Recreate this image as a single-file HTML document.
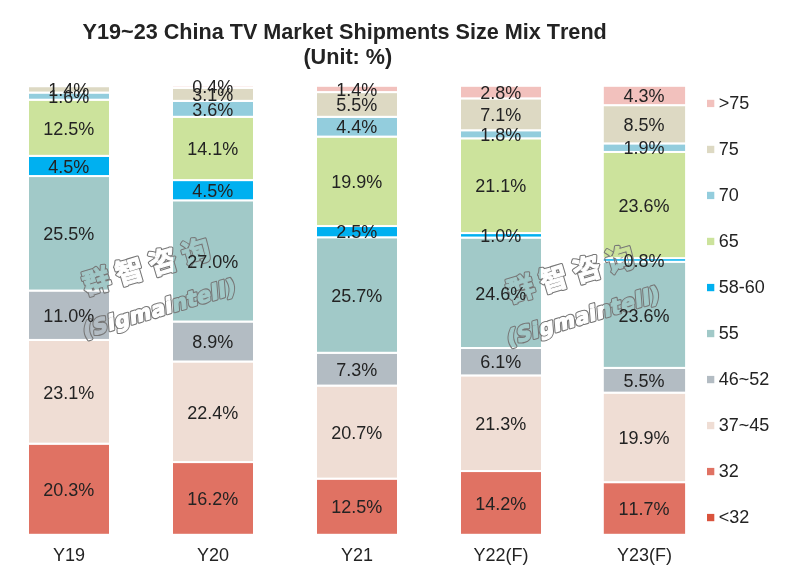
<!DOCTYPE html>
<html lang="en"><head><meta charset="utf-8"><title>Y19~23 China TV Market Shipments Size Mix Trend</title>
<style>
html,body{margin:0;padding:0;background:#fff;}
body{width:796px;height:580px;overflow:hidden;font-family:"Liberation Sans","Noto Sans CJK SC",sans-serif;}
svg{display:block}
text{font-kerning:none}
.t{font-family:"Liberation Sans","Noto Sans CJK SC",sans-serif;font-size:18px;fill:#232323}
.title{font-family:"Liberation Sans","Noto Sans CJK SC",sans-serif;font-size:21.62px;font-weight:bold;fill:#232323}
.seg{stroke:#fff;stroke-width:2}
.wmc{font-family:"Noto Sans CJK SC","Liberation Sans",sans-serif;font-size:28px;font-weight:700;letter-spacing:6.5px}
.wme{font-family:"DejaVu Sans","Liberation Sans",sans-serif;font-size:21px;font-weight:bold;font-style:normal;letter-spacing:0.4px}
</style></head><body>
<svg width="796" height="580" viewBox="0 0 796 580">
<rect width="796" height="580" fill="#fff"/>
<text class="title" x="344.7" y="38.6" text-anchor="middle">Y19~23 China TV Market Shipments Size Mix Trend</text>
<text class="title" x="347.8" y="63.6" text-anchor="middle">(Unit: %)</text>
<g>
<rect class="seg" x="28.0" y="443.65" width="82.0" height="91.15" fill="#E07263"/>
<rect class="seg" x="28.0" y="339.93" width="82.0" height="103.72" fill="#EFDDD4"/>
<rect class="seg" x="28.0" y="290.54" width="82.0" height="49.39" fill="#B3BCC3"/>
<rect class="seg" x="28.0" y="176.05" width="82.0" height="114.50" fill="#A1C9C8"/>
<rect class="seg" x="28.0" y="155.84" width="82.0" height="20.21" fill="#00B0F0"/>
<rect class="seg" x="28.0" y="99.72" width="82.0" height="56.12" fill="#CCE39C"/>
<rect class="seg" x="28.0" y="92.53" width="82.0" height="7.18" fill="#93CDDD"/>
<rect class="seg" x="28.0" y="86.25" width="82.0" height="6.29" fill="#DDD9C3"/>
</g>
<text class="t" x="69.0" y="560.6" text-anchor="middle">Y19</text>
<g>
<rect class="seg" x="172.0" y="462.06" width="82.0" height="72.74" fill="#E07263"/>
<rect class="seg" x="172.0" y="361.49" width="82.0" height="100.58" fill="#EFDDD4"/>
<rect class="seg" x="172.0" y="321.52" width="82.0" height="39.96" fill="#B3BCC3"/>
<rect class="seg" x="172.0" y="200.29" width="82.0" height="121.23" fill="#A1C9C8"/>
<rect class="seg" x="172.0" y="180.09" width="82.0" height="20.21" fill="#00B0F0"/>
<rect class="seg" x="172.0" y="116.78" width="82.0" height="63.31" fill="#CCE39C"/>
<rect class="seg" x="172.0" y="100.84" width="82.0" height="15.94" fill="#93CDDD"/>
<rect class="seg" x="172.0" y="87.82" width="82.0" height="13.02" fill="#DDD9C3"/>
<rect class="seg" x="172.0" y="85.58" width="82.0" height="2.25" fill="#F2C1BD"/>
</g>
<text class="t" x="213.0" y="560.6" text-anchor="middle">Y20</text>
<g>
<rect class="seg" x="316.0" y="478.62" width="82.0" height="56.18" fill="#E07263"/>
<rect class="seg" x="316.0" y="385.58" width="82.0" height="93.04" fill="#EFDDD4"/>
<rect class="seg" x="316.0" y="352.77" width="82.0" height="32.81" fill="#B3BCC3"/>
<rect class="seg" x="316.0" y="237.26" width="82.0" height="115.51" fill="#A1C9C8"/>
<rect class="seg" x="316.0" y="226.03" width="82.0" height="11.24" fill="#00B0F0"/>
<rect class="seg" x="316.0" y="136.59" width="82.0" height="89.44" fill="#CCE39C"/>
<rect class="seg" x="316.0" y="116.81" width="82.0" height="19.78" fill="#93CDDD"/>
<rect class="seg" x="316.0" y="92.09" width="82.0" height="24.72" fill="#DDD9C3"/>
<rect class="seg" x="316.0" y="85.80" width="82.0" height="6.29" fill="#F2C1BD"/>
</g>
<text class="t" x="357.0" y="560.6" text-anchor="middle">Y21</text>
<g>
<rect class="seg" x="460.0" y="471.04" width="82.0" height="63.76" fill="#E07263"/>
<rect class="seg" x="460.0" y="375.40" width="82.0" height="95.64" fill="#EFDDD4"/>
<rect class="seg" x="460.0" y="348.02" width="82.0" height="27.39" fill="#B3BCC3"/>
<rect class="seg" x="460.0" y="237.56" width="82.0" height="110.45" fill="#A1C9C8"/>
<rect class="seg" x="460.0" y="233.07" width="82.0" height="4.49" fill="#00B0F0"/>
<rect class="seg" x="460.0" y="138.33" width="82.0" height="94.74" fill="#CCE39C"/>
<rect class="seg" x="460.0" y="130.25" width="82.0" height="8.08" fill="#93CDDD"/>
<rect class="seg" x="460.0" y="98.37" width="82.0" height="31.88" fill="#DDD9C3"/>
<rect class="seg" x="460.0" y="85.80" width="82.0" height="12.57" fill="#F2C1BD"/>
</g>
<text class="t" x="501.0" y="560.6" text-anchor="middle">Y22(F)</text>
<g>
<rect class="seg" x="602.8" y="482.16" width="83.3" height="52.64" fill="#E07263"/>
<rect class="seg" x="602.8" y="392.63" width="83.3" height="89.53" fill="#EFDDD4"/>
<rect class="seg" x="602.8" y="367.89" width="83.3" height="24.74" fill="#B3BCC3"/>
<rect class="seg" x="602.8" y="261.71" width="83.3" height="106.18" fill="#A1C9C8"/>
<rect class="seg" x="602.8" y="258.11" width="83.3" height="3.60" fill="#00B0F0"/>
<rect class="seg" x="602.8" y="151.94" width="83.3" height="106.18" fill="#CCE39C"/>
<rect class="seg" x="602.8" y="143.39" width="83.3" height="8.55" fill="#93CDDD"/>
<rect class="seg" x="602.8" y="105.15" width="83.3" height="38.24" fill="#DDD9C3"/>
<rect class="seg" x="602.8" y="85.80" width="83.3" height="19.35" fill="#F2C1BD"/>
</g>
<text class="t" x="644.4" y="560.6" text-anchor="middle">Y23(F)</text>
<defs>
<mask id="wm0" maskUnits="userSpaceOnUse" x="0" y="0" width="796" height="580"><rect x="0" y="0" width="796" height="580" fill="#fff"/>
<g transform="translate(86.0,295.0) rotate(-16.5)" fill="#000" stroke="#000" stroke-linejoin="round" stroke-linecap="round"><text class="wmc" x="0" y="0" stroke-width="1.1">群智咨询</text><text class="wme" x="-5.5" y="41.0" transform="skewX(-12)" stroke-width="1.3">(Sigmaintell)</text></g>
</mask>
<mask id="wm1" maskUnits="userSpaceOnUse" x="0" y="0" width="796" height="580"><rect x="0" y="0" width="796" height="580" fill="#fff"/>
<g transform="translate(510.0,302.6) rotate(-16.5)" fill="#000" stroke="#000" stroke-linejoin="round" stroke-linecap="round"><text class="wmc" x="0" y="0" stroke-width="1.1">群智咨询</text><text class="wme" x="-5.5" y="41.0" transform="skewX(-12)" stroke-width="1.3">(Sigmaintell)</text></g>
</mask>
</defs>
<g mask="url(#wm0)">
<g transform="translate(86.0,295.0) rotate(-16.5)" fill="#777" stroke="#777" stroke-linejoin="round" stroke-linecap="round"><text class="wmc" x="0" y="0" stroke-width="3.2">群智咨询</text><text class="wme" x="-5.5" y="41.0" transform="skewX(-12)" stroke-width="3.4">(Sigmaintell)</text></g>
</g>
<g mask="url(#wm1)">
<g transform="translate(510.0,302.6) rotate(-16.5)" fill="#777" stroke="#777" stroke-linejoin="round" stroke-linecap="round"><text class="wmc" x="0" y="0" stroke-width="3.2">群智咨询</text><text class="wme" x="-5.5" y="41.0" transform="skewX(-12)" stroke-width="3.4">(Sigmaintell)</text></g>
</g>
<text class="t" x="68.7" y="495.9" text-anchor="middle">20.3%</text>
<text class="t" x="68.7" y="398.5" text-anchor="middle">23.1%</text>
<text class="t" x="68.7" y="321.9" text-anchor="middle">11.0%</text>
<text class="t" x="68.7" y="240.0" text-anchor="middle">25.5%</text>
<text class="t" x="68.7" y="172.6" text-anchor="middle">4.5%</text>
<text class="t" x="68.7" y="134.5" text-anchor="middle">12.5%</text>
<text class="t" x="68.7" y="102.8" text-anchor="middle">1.6%</text>
<text class="t" x="68.7" y="96.1" text-anchor="middle">1.4%</text>
<text class="t" x="212.7" y="505.1" text-anchor="middle">16.2%</text>
<text class="t" x="212.7" y="418.5" text-anchor="middle">22.4%</text>
<text class="t" x="212.7" y="348.2" text-anchor="middle">8.9%</text>
<text class="t" x="212.7" y="267.6" text-anchor="middle">27.0%</text>
<text class="t" x="212.7" y="196.9" text-anchor="middle">4.5%</text>
<text class="t" x="212.7" y="155.1" text-anchor="middle">14.1%</text>
<text class="t" x="212.7" y="115.5" text-anchor="middle">3.6%</text>
<text class="t" x="212.7" y="101.0" text-anchor="middle">3.1%</text>
<text class="t" x="212.7" y="93.4" text-anchor="middle">0.4%</text>
<text class="t" x="356.7" y="513.4" text-anchor="middle">12.5%</text>
<text class="t" x="356.7" y="438.8" text-anchor="middle">20.7%</text>
<text class="t" x="356.7" y="375.9" text-anchor="middle">7.3%</text>
<text class="t" x="356.7" y="301.7" text-anchor="middle">25.7%</text>
<text class="t" x="356.7" y="238.3" text-anchor="middle">2.5%</text>
<text class="t" x="356.7" y="188.0" text-anchor="middle">19.9%</text>
<text class="t" x="356.7" y="133.4" text-anchor="middle">4.4%</text>
<text class="t" x="356.7" y="111.2" text-anchor="middle">5.5%</text>
<text class="t" x="356.7" y="95.6" text-anchor="middle">1.4%</text>
<text class="t" x="500.7" y="509.6" text-anchor="middle">14.2%</text>
<text class="t" x="500.7" y="429.9" text-anchor="middle">21.3%</text>
<text class="t" x="500.7" y="368.4" text-anchor="middle">6.1%</text>
<text class="t" x="500.7" y="299.5" text-anchor="middle">24.6%</text>
<text class="t" x="500.7" y="242.0" text-anchor="middle">1.0%</text>
<text class="t" x="500.7" y="192.4" text-anchor="middle">21.1%</text>
<text class="t" x="500.7" y="141.0" text-anchor="middle">1.8%</text>
<text class="t" x="500.7" y="121.0" text-anchor="middle">7.1%</text>
<text class="t" x="500.7" y="98.8" text-anchor="middle">2.8%</text>
<text class="t" x="644.1" y="515.2" text-anchor="middle">11.7%</text>
<text class="t" x="644.1" y="444.1" text-anchor="middle">19.9%</text>
<text class="t" x="644.1" y="387.0" text-anchor="middle">5.5%</text>
<text class="t" x="644.1" y="321.5" text-anchor="middle">23.6%</text>
<text class="t" x="644.1" y="266.6" text-anchor="middle">0.8%</text>
<text class="t" x="644.1" y="211.7" text-anchor="middle">23.6%</text>
<text class="t" x="644.1" y="154.4" text-anchor="middle">1.9%</text>
<text class="t" x="644.1" y="131.0" text-anchor="middle">8.5%</text>
<text class="t" x="644.1" y="102.2" text-anchor="middle">4.3%</text>
<rect x="707" y="99.8" width="7.3" height="7.3" fill="#F2C1BD"/><text class="t" x="718.8" y="108.5">&gt;75</text>
<rect x="707" y="145.8" width="7.3" height="7.3" fill="#DDD9C3"/><text class="t" x="718.8" y="154.5">75</text>
<rect x="707" y="191.8" width="7.3" height="7.3" fill="#93CDDD"/><text class="t" x="718.8" y="200.5">70</text>
<rect x="707" y="237.8" width="7.3" height="7.3" fill="#CCE39C"/><text class="t" x="718.8" y="246.5">65</text>
<rect x="707" y="283.9" width="7.3" height="7.3" fill="#00B0F0"/><text class="t" x="718.8" y="292.5">58-60</text>
<rect x="707" y="329.9" width="7.3" height="7.3" fill="#A1C9C8"/><text class="t" x="718.8" y="338.5">55</text>
<rect x="707" y="375.9" width="7.3" height="7.3" fill="#B3BCC3"/><text class="t" x="718.8" y="384.5">46~52</text>
<rect x="707" y="421.9" width="7.3" height="7.3" fill="#EFDDD4"/><text class="t" x="718.8" y="430.5">37~45</text>
<rect x="707" y="467.9" width="7.3" height="7.3" fill="#E07263"/><text class="t" x="718.8" y="476.5">32</text>
<rect x="707" y="513.9" width="7.3" height="7.3" fill="#D9533C"/><text class="t" x="718.8" y="522.5">&lt;32</text>
</svg>
</body></html>
